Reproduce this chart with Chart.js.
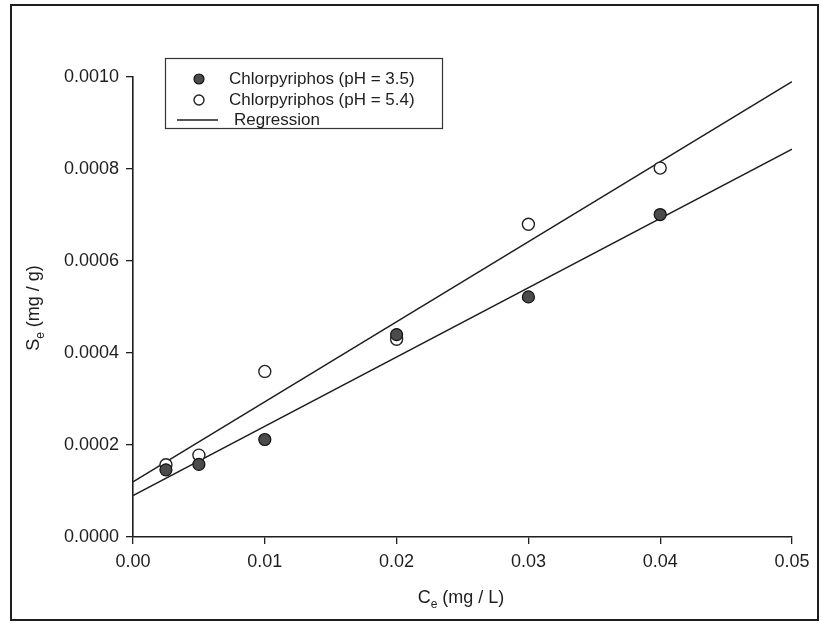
<!DOCTYPE html>
<html>
<head>
<meta charset="utf-8">
<script src="https://cdn.jsdelivr.net/npm/chart.js@4.4.0/dist/chart.umd.min.js"></script>
<style>
  body { margin: 0; background: #fff; }
  canvas { display: block; }
</style>
</head>
<body>
<canvas id="my-chart" width="821" height="625"></canvas>
<script>
// values
const ceValues = [0.0025, 0.005, 0.01, 0.02, 0.03, 0.04];
const sePH35 = [0.000146, 0.000158, 0.000212, 0.00044, 0.000522, 0.000701];
const sePH54 = [0.000157, 0.000178, 0.00036, 0.00043, 0.00068, 0.000802];
const regressionX = [0, 0.05];
const regressionPH35 = [0.00009, 0.000843];
const regressionPH54 = [0.00012, 0.00099];
const xTickValues = [0, 0.01, 0.02, 0.03, 0.04, 0.05];
const xTickLabels = ["0.00", "0.01", "0.02", "0.03", "0.04", "0.05"];
const yTickValues = [0, 0.0002, 0.0004, 0.0006, 0.0008, 0.001];
const yTickLabels = ["0.0000", "0.0002", "0.0004", "0.0006", "0.0008", "0.0010"];
const legendLabels = ["Chlorpyriphos (pH = 3.5)", "Chlorpyriphos (pH = 5.4)", "Regression"];

const ink = "#1e1e1e";
const fontFamily = "'Liberation Sans', Arial, sans-serif";

const toPoints = (xs, ys) => xs.map((x, i) => ({ x: x, y: ys[i] }));

// frame, axis titles (with subscripts) and boxed legend
const decorations = {
  id: "decorations",
  afterDraw(chart) {
    const ctx = chart.ctx;
    ctx.save();
    ctx.strokeStyle = ink;
    ctx.lineWidth = 2;
    ctx.strokeRect(11, 5, 807, 615);

    ctx.fillStyle = ink;
    ctx.textBaseline = "alphabetic";
    function subTitle(main, sub, rest, cx, cy, rotate) {
      ctx.save();
      ctx.translate(cx, cy);
      if (rotate) ctx.rotate(-Math.PI / 2);
      ctx.font = "18px " + fontFamily;
      const w1 = ctx.measureText(main).width;
      const w3 = ctx.measureText(rest).width;
      ctx.font = "12px " + fontFamily;
      const w2 = ctx.measureText(sub).width;
      let x = -(w1 + w2 + w3) / 2;
      ctx.font = "18px " + fontFamily;
      ctx.fillText(main, x, 6);
      x += w1;
      ctx.font = "12px " + fontFamily;
      ctx.fillText(sub, x, 11);
      x += w2;
      ctx.font = "18px " + fontFamily;
      ctx.fillText(rest, x, 6);
      ctx.restore();
    }
    subTitle("C", "e", " (mg / L)", 461, 597, false);
    subTitle("S", "e", " (mg / g)", 33, 308, true);

    // legend
    ctx.lineWidth = 1.2;
    ctx.strokeStyle = "#333";
    ctx.strokeRect(165.5, 58.5, 277, 70);
    ctx.font = "17px " + fontFamily;
    ctx.textBaseline = "middle";
    const rows = [79, 100, 120];
    const ds = chart.data.datasets;
    [ds[0], ds[1]].forEach((d, i) => {
      ctx.beginPath();
      ctx.arc(199, rows[i], 5, 0, Math.PI * 2);
      ctx.fillStyle = d.backgroundColor;
      ctx.fill();
      ctx.lineWidth = d.borderWidth;
      ctx.strokeStyle = d.borderColor;
      ctx.stroke();
      ctx.fillStyle = ink;
      ctx.fillText(legendLabels[i], 229, rows[i]);
    });
    ctx.beginPath();
    ctx.moveTo(177, rows[2]);
    ctx.lineTo(218, rows[2]);
    ctx.lineWidth = 1.3;
    ctx.strokeStyle = ink;
    ctx.stroke();
    ctx.fillText(legendLabels[2], 234, rows[2]);
    ctx.restore();
  }
};

const ctx = document.getElementById("my-chart").getContext("2d");
const chart = new Chart(ctx, {
  type: "scatter",
  data: {
    datasets: [
      {
        label: legendLabels[0],
        data: toPoints(ceValues, sePH35),
        backgroundColor: "#4b4b4b",
        borderColor: "#111",
        borderWidth: 1.2,
        pointRadius: 6,
        order: 1
      },
      {
        label: legendLabels[1],
        data: toPoints(ceValues, sePH54),
        backgroundColor: "#fff",
        borderColor: "#222",
        borderWidth: 1.4,
        pointRadius: 6,
        order: 1
      },
      {
        type: "line",
        label: legendLabels[2],
        data: toPoints(regressionX, regressionPH35),
        borderColor: ink,
        borderWidth: 1.4,
        pointRadius: 0,
        fill: false,
        order: 2
      },
      {
        type: "line",
        label: legendLabels[2],
        data: toPoints(regressionX, regressionPH54),
        borderColor: ink,
        borderWidth: 1.4,
        pointRadius: 0,
        fill: false,
        order: 2
      }
    ]
  },
  options: {
    responsive: false,
    devicePixelRatio: 1,
    animation: false,
    layout: { padding: { left: 0, top: 77, right: 29, bottom: 0 } },
    plugins: { legend: { display: false }, tooltip: { enabled: false } },
    scales: {
      x: {
        type: "linear",
        min: 0,
        max: 0.05,
        afterBuildTicks: s => { s.ticks = xTickValues.map(v => ({ value: v })); },
        afterFit: s => { s.height = 625 - 537; },
        ticks: {
          callback: (v, i) => xTickLabels[i],
          color: ink,
          font: { family: fontFamily, size: 18 },
          padding: 7,
          maxRotation: 0
        },
        grid: { drawOnChartArea: false, tickLength: 7, color: ink, lineWidth: 1.3 },
        border: { color: ink, width: 1.6 }
      },
      y: {
        type: "linear",
        min: 0,
        max: 0.001,
        afterBuildTicks: s => { s.ticks = yTickValues.map(v => ({ value: v })); },
        afterFit: s => { s.width = 133; },
        ticks: {
          callback: (v, i) => yTickLabels[i],
          color: ink,
          font: { family: fontFamily, size: 18 },
          padding: 7
        },
        grid: { drawOnChartArea: false, tickLength: 7, color: ink, lineWidth: 1.3 },
        border: { color: ink, width: 1.6 }
      }
    }
  },
  plugins: [decorations]
});
</script>
</body>
</html>
